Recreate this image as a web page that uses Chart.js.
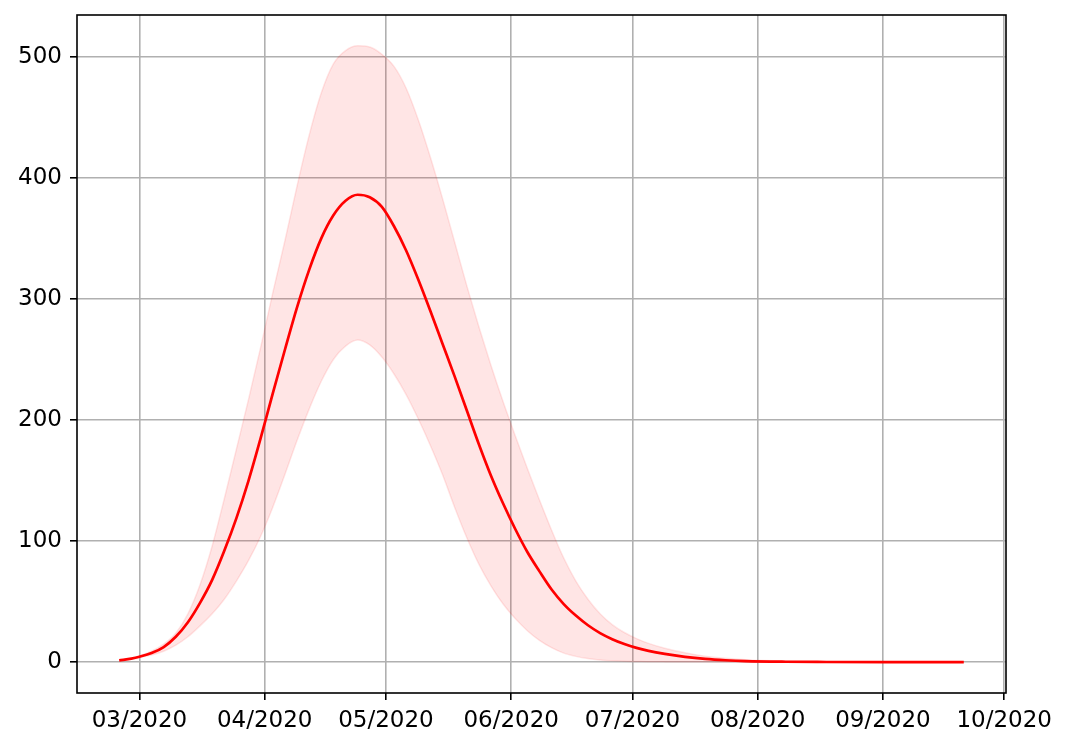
<!DOCTYPE html>
<html>
<head>
<meta charset="utf-8">
<script src="https://cdn.jsdelivr.net/npm/chart.js@4/dist/chart.umd.min.js"></script>
<style>
  html, body { margin: 0; padding: 0; background: #fff; }
  #wrap { width: 1072px; height: 748px; }
</style>
</head>
<body>
<div id="wrap"><canvas id="chart" width="1072" height="748"></canvas></div>
<script>
// sample points, in days since 2020-03-01 (first = 2020-02-25, last = 2020-09-21)
const days = [
  -5, -2, 0, 3, 6, 9, 12, 15, 18, 21, 24, 27, 30, 33, 36, 39, 42, 45,
  48, 51, 54, 57, 60, 63, 66, 69, 72, 75, 78, 81, 84, 87, 90, 93,
  96, 99, 102, 105, 108, 111, 114, 117, 120, 123, 126, 130, 135, 140,
  145, 150, 160, 170, 185, 204
];
// central estimate
const mean = [
  1.5, 3, 4.5, 7.5, 12.5, 21, 33, 49, 68, 92, 119, 150, 185, 222, 258, 293, 324, 350,
  369, 381, 386, 384, 376, 360, 340, 316, 290, 263, 236, 208, 180, 154, 131, 110,
  91, 75, 60, 48, 38.5, 30.5, 24, 19, 15, 11.8, 9.3, 6.8, 4.4, 2.7,
  1.6, 0.9, 0.35, 0.15, 0.05, 0
];
// upper bound of the band
const upper = [
  1.5, 3, 5, 9, 15, 24, 40, 64, 96, 135, 176, 217, 260, 305, 348, 393, 435, 470,
  494, 505, 509, 508, 502, 492, 474, 448, 417, 383, 347, 311, 277, 245, 215, 187,
  160, 134, 109, 86, 67, 52, 40, 31, 24.5, 19.5, 15.5, 11.5, 7.8, 5,
  3.2, 2, 0.8, 0.3, 0.1, 0
];
// lower bound of the band
const lower = [
  1.5, 2.8, 4, 6, 9, 14, 21, 30, 40, 52, 67, 84, 104, 128, 155, 183, 209, 232,
  250, 261, 266, 262, 252, 238, 221, 201, 179, 155, 128, 103, 81, 63, 48, 36,
  26, 18, 12, 7.5, 4.8, 3, 1.9, 1.2, 0.8, 0.6, 0.4, 0.25, 0.15, 0.1,
  0.05, 0, 0, 0, 0, 0
];
// x ticks: first day of each month
const monthTicks  = [0, 31, 61, 92, 122, 153, 184, 214];
const monthLabels = ['03/2020', '04/2020', '05/2020', '06/2020',
                     '07/2020', '08/2020', '09/2020', '10/2020'];
const yTicks = [0, 100, 200, 300, 400, 500];

const pts = arr => arr.map((v, i) => ({ x: days[i], y: v }));

// matplotlib-like 5% margins
const xMin0 = Math.min(...days), xMax0 = Math.max(...days);
const xPad = (xMax0 - xMin0) * 0.05;
const yMax0 = Math.max(...upper), yMin0 = 0;
const yPad = (yMax0 - yMin0) * 0.05;

// frame around the plot area
const frame = {
  id: 'frame',
  afterDraw(chart) {
    const a = chart.chartArea, c = chart.ctx;
    c.save();
    c.strokeStyle = '#000';
    c.lineWidth = 1.6;
    c.strokeRect(a.left, a.top, a.right - a.left, a.bottom - a.top);
    c.restore();
  }
};

const font = { family: 'DejaVu Sans', size: 23 };
const band = 'rgba(255, 0, 0, 0.1)';

new Chart(document.getElementById('chart').getContext('2d'), {
  type: 'line',
  data: {
    datasets: [
      {
        data: pts(mean),
        borderColor: '#ff0000',
        borderWidth: 2.7,
        pointRadius: 0,
        cubicInterpolationMode: 'monotone',
        fill: false
      },
      {
        data: pts(upper),
        borderColor: band,
        backgroundColor: band,
        borderWidth: 1.5,
        pointRadius: 0,
        cubicInterpolationMode: 'monotone',
        fill: '+1'
      },
      {
        data: pts(lower),
        borderColor: band,
        borderWidth: 1.5,
        pointRadius: 0,
        cubicInterpolationMode: 'monotone',
        fill: false
      }
    ]
  },
  options: {
    responsive: false,
    animation: false,
    devicePixelRatio: 1,
    layout: { padding: { left: 0, top: 15, right: 66, bottom: 0 } },
    plugins: { legend: { display: false }, tooltip: { enabled: false } },
    scales: {
      x: {
        type: 'linear',
        min: xMin0 - xPad,
        max: xMax0 + xPad,
        afterBuildTicks: s => { s.ticks = monthTicks.map(v => ({ value: v })); },
        afterFit: s => { s.height = 55; s.paddingLeft = 0; s.paddingRight = 0; },
        ticks: {
          color: '#000',
          font: font,
          padding: 7,
          maxRotation: 0,
          autoSkip: false,
          callback: (v, i) => monthLabels[i]
        },
        grid: { color: '#b0b0b0', lineWidth: 1.6, tickLength: 7, tickColor: '#000', tickWidth: 1.6 },
        border: { display: false }
      },
      y: {
        type: 'linear',
        min: yMin0 - yPad,
        max: yMax0 + yPad,
        afterBuildTicks: s => { s.ticks = yTicks.map(v => ({ value: v })); },
        afterFit: s => { s.width = 77; s.paddingTop = 0; s.paddingBottom = 0; },
        ticks: { color: '#000', font: font, padding: 8 },
        grid: { color: '#b0b0b0', lineWidth: 1.6, tickLength: 7, tickColor: '#000', tickWidth: 1.6 },
        border: { display: false }
      }
    }
  },
  plugins: [frame]
});
</script>
</body>
</html>
